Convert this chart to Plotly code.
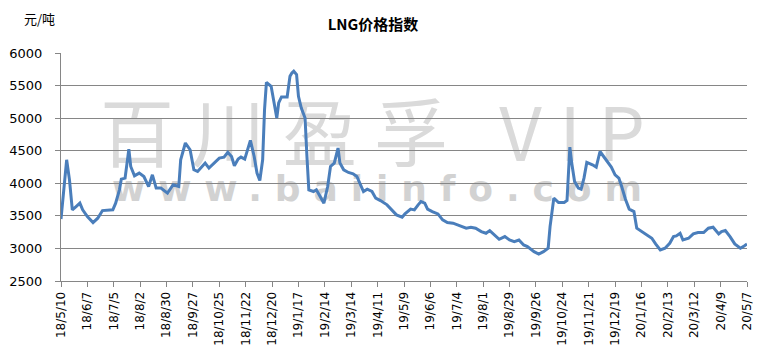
import base64
import plotly.graph_objects as go

# ---- data ----
dates = [
    "2018-05-10", "2018-05-12", "2018-05-16", "2018-05-19", "2018-05-22", "2018-05-26", "2018-05-30",
    "2018-06-02", "2018-06-07", "2018-06-13", "2018-06-18", "2018-06-23", "2018-06-29", "2018-07-04",
    "2018-07-07", "2018-07-11", "2018-07-13", "2018-07-17", "2018-07-21", "2018-07-23", "2018-07-27",
    "2018-08-01", "2018-08-06", "2018-08-11", "2018-08-15", "2018-08-19", "2018-08-24", "2018-08-31",
    "2018-09-06", "2018-09-12", "2018-09-14", "2018-09-19", "2018-09-24", "2018-09-28", "2018-10-02",
    "2018-10-07", "2018-10-10", "2018-10-14", "2018-10-19", "2018-10-25", "2018-10-30", "2018-11-03",
    "2018-11-07", "2018-11-10", "2018-11-14", "2018-11-17", "2018-11-21", "2018-11-24", "2018-11-27",
    "2018-12-01", "2018-12-04", "2018-12-07", "2018-12-10", "2018-12-12", "2018-12-14", "2018-12-19",
    "2018-12-22", "2018-12-25", "2018-12-27", "2018-12-30", "2019-01-05", "2019-01-08", "2019-01-10",
    "2019-01-12", "2019-01-15", "2019-01-17", "2019-01-20", "2019-01-24", "2019-01-26", "2019-01-28",
    "2019-02-02", "2019-02-05", "2019-02-09", "2019-02-13", "2019-02-17", "2019-02-20", "2019-02-24",
    "2019-02-26", "2019-02-28", "2019-03-02", "2019-03-06", "2019-03-11", "2019-03-16", "2019-03-20",
    "2019-03-23", "2019-03-27", "2019-03-31", "2019-04-05", "2019-04-09", "2019-04-14", "2019-04-21",
    "2019-04-26", "2019-05-01", "2019-05-07", "2019-05-10", "2019-05-16", "2019-05-20", "2019-05-24",
    "2019-05-27", "2019-05-31", "2019-06-03", "2019-06-08", "2019-06-14", "2019-06-19", "2019-06-24",
    "2019-06-30", "2019-07-05", "2019-07-10", "2019-07-14", "2019-07-19", "2019-07-24", "2019-07-30",
    "2019-08-04", "2019-08-08", "2019-08-13", "2019-08-18", "2019-08-24", "2019-08-29", "2019-09-03",
    "2019-09-08", "2019-09-13", "2019-09-17", "2019-09-24", "2019-09-29", "2019-10-04", "2019-10-09",
    "2019-10-11", "2019-10-15", "2019-10-20", "2019-10-26", "2019-10-29", "2019-11-01", "2019-11-03",
    "2019-11-06", "2019-11-10", "2019-11-13", "2019-11-16", "2019-11-19", "2019-11-25", "2019-11-29",
    "2019-12-03", "2019-12-07", "2019-12-12", "2019-12-15", "2019-12-19", "2019-12-23", "2019-12-26",
    "2019-12-30", "2020-01-03", "2020-01-08", "2020-01-11", "2020-01-16", "2020-01-21", "2020-01-27",
    "2020-01-31", "2020-02-05", "2020-02-10", "2020-02-15", "2020-02-19", "2020-02-22", "2020-02-26",
    "2020-02-29", "2020-03-06", "2020-03-11", "2020-03-16", "2020-03-22", "2020-03-27", "2020-04-01",
    "2020-04-07", "2020-04-10", "2020-04-14", "2020-04-19", "2020-04-24", "2020-04-30", "2020-05-04",
    "2020-05-07",
]

prices = [
    3450, 3746, 4361, 4053, 3592, 3643, 3695,
    3592, 3489, 3397, 3464, 3581, 3581, 3592,
    3695, 3900, 4064, 4079, 4525, 4258, 4115,
    4156, 4104, 3950, 4130, 3926, 3926, 3849,
    3977, 3950, 4361, 4618, 4515, 4207, 4181,
    4258, 4310, 4233, 4310, 4387, 4402, 4474,
    4412, 4269, 4371, 4402, 4371, 4515, 4658,
    4412, 4156, 4043, 4361, 5130, 5550, 5488,
    5233, 5002, 5233, 5325, 5325, 5642, 5694,
    5720, 5668, 5335, 5156, 5002, 4412, 3900,
    3874, 3900, 3797, 3695, 3950, 4258, 4310,
    4412, 4541, 4310, 4207, 4166, 4146, 4104,
    3992, 3874, 3910, 3874, 3772, 3735, 3669,
    3592, 3515, 3480, 3530, 3603, 3592, 3669,
    3720, 3695, 3603, 3566, 3530, 3438, 3397,
    3387, 3361, 3335, 3310, 3326, 3310, 3258,
    3233, 3274, 3207, 3141, 3182, 3130, 3105,
    3130, 3054, 3028, 2951, 2915, 2951, 3003,
    3335, 3772, 3704, 3704, 3735, 4556, 4310,
    4027, 3926, 3910, 4079, 4320, 4284, 4248,
    4488, 4412, 4300, 4248, 4130, 4079, 3950,
    3756, 3603, 3566, 3310, 3258, 3207, 3156,
    3069, 2977, 3003, 3079, 3182, 3192, 3233,
    3130, 3156, 3223, 3243, 3243, 3310, 3326,
    3223, 3258, 3274, 3182, 3069, 3003, 3038,
    3069,
]

tick_dates = [
    "2018-05-10", "2018-06-07", "2018-07-05", "2018-08-02", "2018-08-30", "2018-09-27",
    "2018-10-25", "2018-11-22", "2018-12-20", "2019-01-17", "2019-02-14", "2019-03-14",
    "2019-04-11", "2019-05-09", "2019-06-06", "2019-07-04", "2019-08-01", "2019-08-29",
    "2019-09-26", "2019-10-24", "2019-11-21", "2019-12-19", "2020-01-16", "2020-02-13",
    "2020-03-12", "2020-04-09", "2020-05-07",
]
tick_labels = [
    "18/5/10", "18/6/7", "18/7/5", "18/8/2", "18/8/30", "18/9/27",
    "18/10/25", "18/11/22", "18/12/20", "19/1/17", "19/2/14", "19/3/14",
    "19/4/11", "19/5/9", "19/6/6", "19/7/4", "19/8/1", "19/8/29",
    "19/9/26", "19/10/24", "19/11/21", "19/12/19", "20/1/16", "20/2/13",
    "20/3/12", "20/4/9", "20/5/7",
]

title_text = "LNG价格指数"
unit_text = "元/吨"
watermark_cn = "百川盈孚 VIP"
watermark_url = "www.baiinfo.com"

# ---- watermark drawn as an image below the data ----
W, H = 686, 228
svg = f'''<svg xmlns="http://www.w3.org/2000/svg" width="{W}" height="{H}" viewBox="0 0 {W} {H}">
<text x="39" y="108" font-family="Noto Sans CJK SC" font-size="74" fill="#dadada"
 textLength="545" lengthAdjust="spacing">{watermark_cn}</text>
<text x="51" y="148" font-family="DejaVu Sans" font-weight="bold" font-size="36" fill="#d2d2d2"
 textLength="530" lengthAdjust="spacing">{watermark_url}</text>
</svg>'''
src = "data:image/svg+xml;base64," + base64.b64encode(svg.encode("utf-8")).decode("ascii")

grid = "#868686"

fig = go.Figure()
fig.add_trace(go.Scatter(
    x=dates, y=prices, mode="lines",
    line=dict(color="#4a7ebb", width=3),
    hoverinfo="x+y", showlegend=False,
))

fig.update_layout(
    width=764, height=359,
    margin=dict(l=61, r=17, t=53, b=78, autoexpand=False),
    paper_bgcolor="white", plot_bgcolor="white",
    font=dict(family="DejaVu Sans", color="#000000"),
    title=dict(text=f"<b>{title_text}</b>", x=373 / 764, xref="container", xanchor="center",
               y=1 - 25 / 359, yref="container", yanchor="middle",
               font=dict(family="Noto Sans CJK SC", size=15, color="#000000")),
    xaxis=dict(
        type="date", range=[dates[0], dates[-1]],
        tickmode="array", tickvals=tick_dates, ticktext=tick_labels,
        tickangle=-90, tickfont=dict(size=12, family="DejaVu Sans", color="#000000"),
        ticks="outside", ticklen=5, tickcolor=grid, tickwidth=1,
        showgrid=False, showline=True, linecolor=grid, linewidth=1,
        zeroline=False, automargin=False,
    ),
    yaxis=dict(
        range=[2500, 6000], dtick=500, tick0=2500,
        tickfont=dict(size=13, family="DejaVu Sans", color="#000000"),
        ticks="outside", ticklen=5, tickcolor=grid,
        ticklabelstandoff=10,
        showgrid=True, gridcolor=grid, gridwidth=1,
        showline=True, linecolor=grid, linewidth=1,
        zeroline=False, automargin=False,
    ),
    images=[dict(source=src, xref="paper", yref="paper", x=0, y=1, sizex=1, sizey=1,
                 xanchor="left", yanchor="top", sizing="stretch", layer="below")],
    annotations=[dict(text=unit_text, xref="paper", yref="paper",
                      x=(22 - 61) / 686, y=1 + (53 - 18) / 228, xanchor="left", yanchor="middle",
                      showarrow=False, font=dict(family="Noto Sans CJK SC", size=13, color="#000000"))],
)

fig.write_html(
    "out.html",
    config={"displayModeBar": False},
    post_script="document.body.style.margin='0';document.body.style.overflow='hidden';",
)
